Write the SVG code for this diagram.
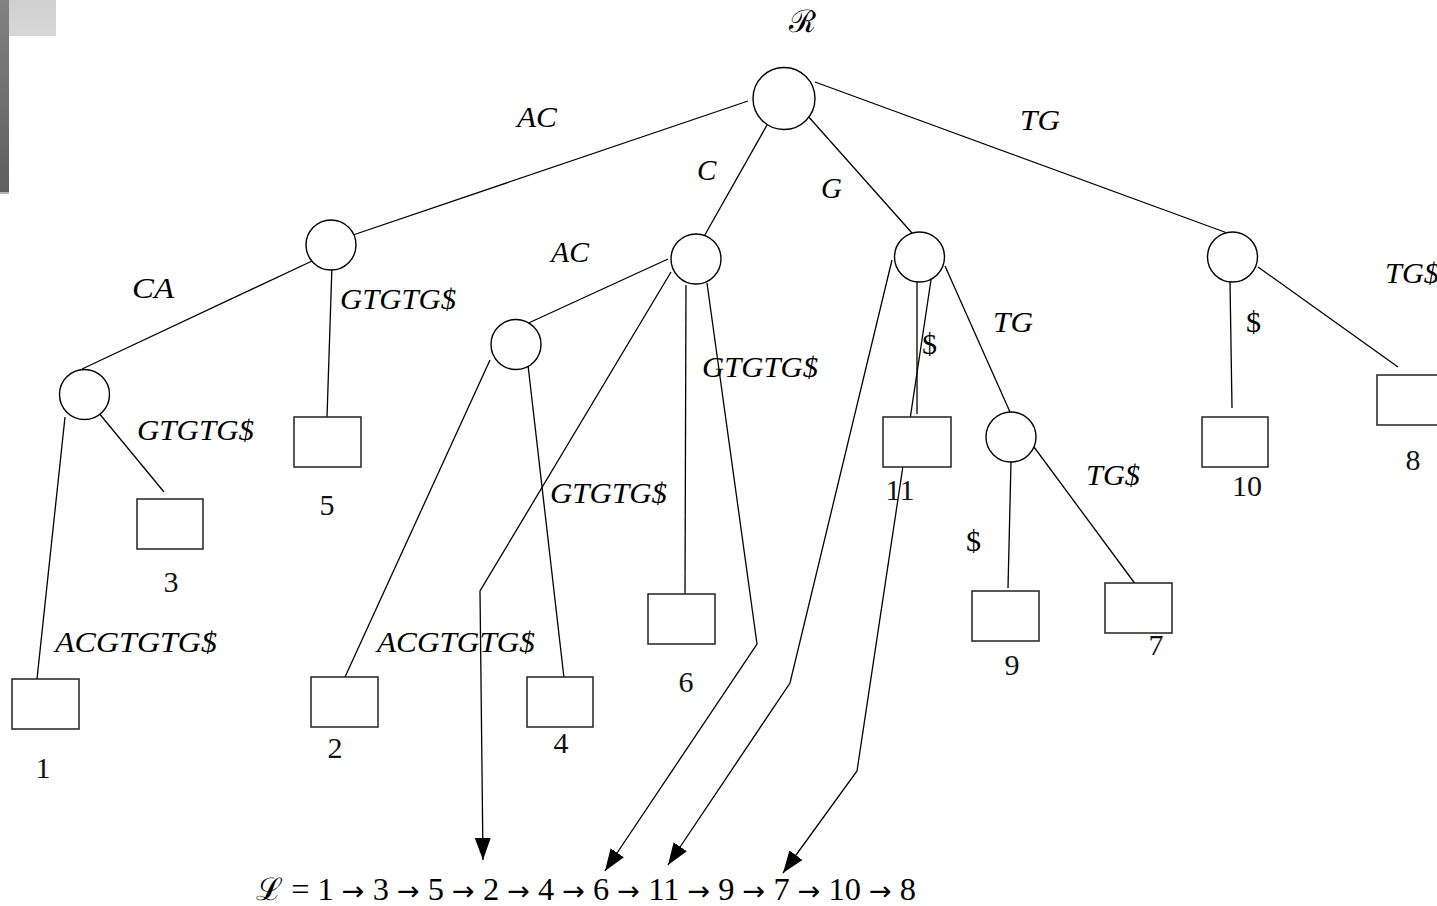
<svg xmlns="http://www.w3.org/2000/svg" width="1437" height="906" viewBox="0 0 1437 906">
  <style>
    .node circle { fill: #fff; stroke: #000; stroke-width: 1.4; }
    .leaf rect { fill: #fff; stroke: #222; stroke-width: 1.5; }
    .edge { fill: none; stroke: #000; stroke-width: 1.3; }
    .lab { font-family: "Liberation Serif", serif; font-style: italic; font-size: 29px; fill: #000; }
    .num { font-family: "Liberation Serif", serif; font-size: 30px; fill: #111; text-anchor: middle; }
    .sym { font-family: "Liberation Serif", serif; font-size: 30px; fill: #000; }
    .list { font-family: "Liberation Serif", "DejaVu Serif", serif; font-size: 31px; fill: #000; }
    .arr { font-family: "DejaVu Sans", sans-serif; font-size: 26px; }
  </style>
  <defs>
    <linearGradient id="barShade" x1="0" y1="0" x2="0" y2="1">
      <stop offset="0" stop-color="#828282"/>
      <stop offset="1" stop-color="#5e5e5e"/>
    </linearGradient>
    <linearGradient id="tabShade" x1="0" y1="0" x2="0" y2="1">
      <stop offset="0" stop-color="#cfcfcf"/>
      <stop offset="1" stop-color="#d9d9d9"/>
    </linearGradient>
    <marker id="head" markerUnits="userSpaceOnUse" markerWidth="24" markerHeight="18" refX="22" refY="8" orient="auto">
      <path d="M0,0 L22,8 L0,16 z" fill="#000"/>
    </marker>
  </defs>

  <rect width="1437" height="906" fill="#fff"/>
  <!-- corner decoration -->
  <rect x="0" y="0" width="9" height="192" fill="url(#barShade)"/>
  <rect x="0" y="192" width="9" height="2" fill="#b5b5b5"/>
  <rect x="9" y="0" width="47" height="36" fill="url(#tabShade)"/>

  <!-- tree edges and list pointers -->
  <g id="connectors">
    <line class="edge" x1="748" y1="101" x2="353" y2="235"/>
    <line class="edge" x1="767" y1="125" x2="702" y2="240"/>
    <line class="edge" x1="807" y1="115" x2="912" y2="233"/>
    <line class="edge" x1="815" y1="82" x2="1230" y2="234"/>

    <line class="edge" x1="312" y1="261" x2="82" y2="369"/>
    <line class="edge" x1="332" y1="265" x2="327" y2="417"/>
    <line class="edge" x1="65" y1="417" x2="37" y2="679"/>
    <line class="edge" x1="98" y1="412" x2="164" y2="492"/>

    <line class="edge" x1="668" y1="259" x2="522" y2="326"/>
    <line class="edge" x1="490" y1="360" x2="345" y2="677"/>
    <line class="edge" x1="528" y1="365" x2="564" y2="678"/>
    <line class="edge" x1="686" y1="285" x2="685" y2="594"/>

    <line class="edge" x1="917" y1="282" x2="917" y2="414"/>
    <line class="edge" x1="945" y1="266" x2="1010" y2="412"/>
    <line class="edge" x1="1011" y1="462" x2="1008" y2="588"/>
    <line class="edge" x1="1034" y1="447" x2="1136" y2="585"/>

    <line class="edge" x1="1230" y1="282" x2="1232" y2="408"/>
    <line class="edge" x1="1258" y1="267" x2="1398" y2="367"/>

    <polyline class="edge" points="671,272 480,591 483,860" marker-end="url(#head)"/>
    <polyline class="edge" points="707,283 757,644 605,871" marker-end="url(#head)"/>
    <polyline class="edge" points="892,260 790,683 668,865" marker-end="url(#head)"/>
    <polyline class="edge" points="931,280 857,771 783,873" marker-end="url(#head)"/>
  </g>

  <!-- internal nodes -->
  <g id="root" class="node"><circle cx="784" cy="98.5" r="31"/></g>
  <g id="n-AC" class="node"><circle cx="331" cy="245" r="25"/></g>
  <g id="n-C" class="node"><circle cx="696" cy="259" r="25"/></g>
  <g id="n-G" class="node"><circle cx="919.5" cy="257" r="25"/></g>
  <g id="n-TG" class="node"><circle cx="1232.5" cy="257" r="25"/></g>
  <g id="n-ACA" class="node"><circle cx="84.5" cy="394.5" r="25"/></g>
  <g id="n-CAC" class="node"><circle cx="516" cy="344.5" r="25"/></g>
  <g id="n-GTG" class="node"><circle cx="1011" cy="437" r="25"/></g>

  <!-- leaves -->
  <g id="leaf-1" class="leaf"><rect x="12" y="679" width="67" height="50"/><text class="num" x="43" y="778">1</text></g>
  <g id="leaf-2" class="leaf"><rect x="311" y="677" width="67" height="50"/><text class="num" x="335" y="758">2</text></g>
  <g id="leaf-3" class="leaf"><rect x="137" y="499" width="66" height="50"/><text class="num" x="171" y="592">3</text></g>
  <g id="leaf-4" class="leaf"><rect x="527" y="677" width="66" height="50"/><text class="num" x="561" y="753">4</text></g>
  <g id="leaf-5" class="leaf"><rect x="294" y="417" width="67" height="50"/><text class="num" x="327" y="515">5</text></g>
  <g id="leaf-6" class="leaf"><rect x="648" y="594" width="67" height="50"/><text class="num" x="686" y="692">6</text></g>
  <g id="leaf-7" class="leaf"><rect x="1105" y="583" width="67" height="50"/><text class="num" x="1156" y="655">7</text></g>
  <g id="leaf-8" class="leaf"><rect x="1377" y="375" width="67" height="50"/><text class="num" x="1413" y="470">8</text></g>
  <g id="leaf-9" class="leaf"><rect x="972" y="591" width="67" height="50"/><text class="num" x="1012" y="675">9</text></g>
  <g id="leaf-10" class="leaf"><rect x="1202" y="417" width="66" height="50"/><text class="num" x="1247" y="496">10</text></g>
  <g id="leaf-11" class="leaf"><rect x="883" y="417" width="68" height="50"/><text class="num" x="900" y="500">11</text></g>

  <!-- edge labels -->
  <g id="labels">
    <text class="list" x="789" y="32" font-size="30">ℛ</text>
    <text class="lab" x="517" y="127" textLength="40" lengthAdjust="spacingAndGlyphs">AC</text>
    <text class="lab" x="697" y="180">C</text>
    <text class="lab" x="821" y="198">G</text>
    <text class="lab" x="1020" y="130" textLength="40" lengthAdjust="spacingAndGlyphs">TG</text>
    <text class="lab" x="132" y="298" textLength="42" lengthAdjust="spacingAndGlyphs">CA</text>
    <text class="lab" x="340" y="309" textLength="116" lengthAdjust="spacingAndGlyphs">GTGTG$</text>
    <text class="lab" x="551" y="262" textLength="38" lengthAdjust="spacingAndGlyphs">AC</text>
    <text class="lab" x="702" y="377" textLength="116" lengthAdjust="spacingAndGlyphs">GTGTG$</text>
    <text class="lab" x="137" y="440" textLength="117" lengthAdjust="spacingAndGlyphs">GTGTG$</text>
    <text class="lab" x="550" y="503" textLength="117" lengthAdjust="spacingAndGlyphs">GTGTG$</text>
    <text class="lab" x="55" y="652" textLength="162" lengthAdjust="spacingAndGlyphs">ACGTGTG$</text>
    <text class="lab" x="377" y="652" textLength="158" lengthAdjust="spacingAndGlyphs">ACGTGTG$</text>
    <text class="sym" x="922" y="354">$</text>
    <text class="lab" x="993" y="332" textLength="40" lengthAdjust="spacingAndGlyphs">TG</text>
    <text class="lab" x="1086" y="485" textLength="54" lengthAdjust="spacingAndGlyphs">TG$</text>
    <text class="sym" x="966" y="551">$</text>
    <text class="sym" x="1246" y="332">$</text>
    <text class="lab" x="1385" y="283" textLength="54" lengthAdjust="spacingAndGlyphs">TG$</text>
  </g>

  <!-- leaf list -->
  <text id="leaf-list" class="list" x="256" y="900" textLength="660" lengthAdjust="spacingAndGlyphs">ℒ = 1 <tspan class="arr">→</tspan> 3 <tspan class="arr">→</tspan> 5 <tspan class="arr">→</tspan> 2 <tspan class="arr">→</tspan> 4 <tspan class="arr">→</tspan> 6 <tspan class="arr">→</tspan> 11 <tspan class="arr">→</tspan> 9 <tspan class="arr">→</tspan> 7 <tspan class="arr">→</tspan> 10 <tspan class="arr">→</tspan> 8</text>
</svg>
